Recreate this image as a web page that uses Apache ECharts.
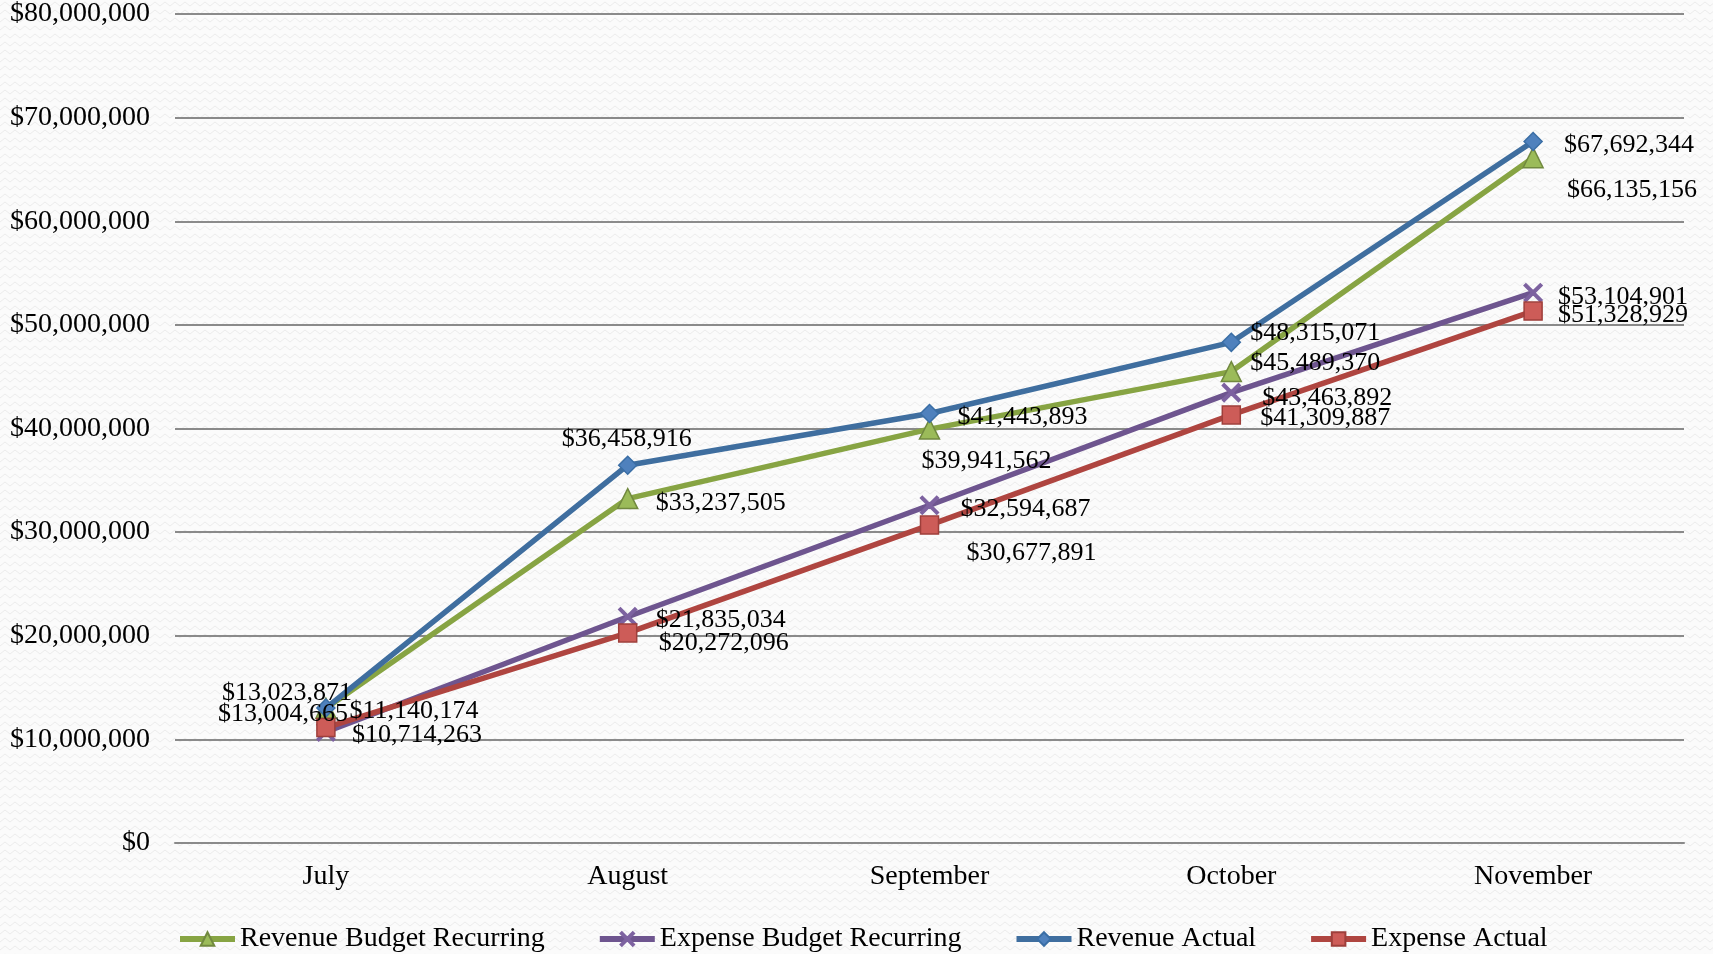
<!DOCTYPE html>
<html>
<head>
<meta charset="utf-8">
<script src="https://cdn.jsdelivr.net/npm/echarts@6/dist/echarts.min.js"></script>
<style>
  html, body { margin: 0; padding: 0; background: #fafafa; }
  #chart { width: 1713px; height: 954px; }
</style>
</head>
<body>
<div id="chart"></div>
<script>
const months = ['July', 'August', 'September', 'October', 'November']
const revenueBudget = [13004665, 33237505, 39941562, 45489370, 66135156]
const expenseBudget = [10714263, 21835034, 32594687, 43463892, 53104901]
const revenueActual = [13023871, 36458916, 41443893, 48315071, 67692344]
const expenseActual = [11140174, 20272096, 30677891, 41309887, 51328929]

// where each value label sits, relative to its point (px)
const offsets = {
  revenueBudget: [[-43, 6], [93, 5], [57, 32], [84, -8], [99, 32]],
  expenseBudget: [[91, 3], [93, 3], [96, 4], [96, 6], [90, 4]],
  revenueActual: [[-39, -15], [-1, -26], [93, 4], [84, -9], [96, 4]],
  expenseActual: [[88, -16], [96, 10], [102, 28], [94, 3], [90, 4]]
}

const font = '"Liberation Serif", "DejaVu Serif", serif'
const money = v => '$' + v.toLocaleString('en-US')

// faint zigzag paper background
const bg = document.createElement('canvas')
bg.width = 10; bg.height = 8
const g = bg.getContext('2d')
g.fillStyle = '#fbfbfb'
g.fillRect(0, 0, 10, 8)
g.strokeStyle = '#ececec'
g.lineWidth = 1
g.beginPath()
g.moveTo(0, 6); g.lineTo(5, 2); g.lineTo(10, 6)
g.stroke()

const xMark = 'path://M0,1 L1,0 L5,4 L9,0 L10,1 L6,5 L10,9 L9,10 L5,6 L1,10 L0,9 L4,5 Z'

const mkSeries = (name, values, key, line, fill, border, symbol, size) => ({
  name,
  type: 'line',
  data: values.map((v, i) => ({
    value: v,
    label: { offset: offsets[key][i] }
  })),
  symbol,
  symbolSize: size,
  lineStyle: { color: line, width: 5.5 },
  itemStyle: { color: fill, borderColor: border, borderWidth: 1.5 },
  label: {
    show: true,
    position: 'inside',
    formatter: p => money(p.value),
    fontFamily: font,
    fontSize: 26,
    color: '#000'
  },
  emphasis: { disabled: true },
  z: 2
})

const chart = echarts.init(document.getElementById('chart'))
chart.setOption({
  backgroundColor: { image: bg, repeat: 'repeat' },
  animation: false,
  grid: { left: 175, right: 29, top: 12, bottom: 111 },
  xAxis: {
    type: 'category',
    data: months,
    boundaryGap: true,
    axisLine: { lineStyle: { color: '#8a8a8a', width: 2 } },
    axisTick: { show: false },
    axisLabel: { fontFamily: font, fontSize: 28, color: '#000', margin: 20 }
  },
  yAxis: {
    type: 'value',
    min: 0,
    max: 80000000,
    interval: 10000000,
    axisLine: { show: false },
    axisTick: { show: false },
    splitLine: { lineStyle: { color: '#8a8a8a', width: 2 } },
    axisLabel: {
      fontFamily: font, fontSize: 28, color: '#000', margin: 25,
      formatter: v => money(v)
    }
  },
  legend: {
    left: 172,
    top: 920,
    itemWidth: 55,
    itemHeight: 17,
    itemGap: 52,
    lineStyle: { width: 6 },
    textStyle: { fontFamily: font, fontSize: 28, color: '#000' }
  },
  series: [
    mkSeries('Revenue Budget Recurring', revenueBudget, 'revenueBudget', '#87A443', '#9BBB59', '#71893F', 'triangle', 20),
    mkSeries('Expense Budget Recurring', expenseBudget, 'expenseBudget', '#6E558F', '#7D62A0', '#7D62A0', xMark, 18),
    mkSeries('Revenue Actual', revenueActual, 'revenueActual', '#3F6E9F', '#4F81BD', '#3A6EA5', 'diamond', 18),
    mkSeries('Expense Actual', expenseActual, 'expenseActual', '#AF4540', '#CD5C58', '#9E3F3B', 'rect', 18)
  ]
})
</script>
</body>
</html>
